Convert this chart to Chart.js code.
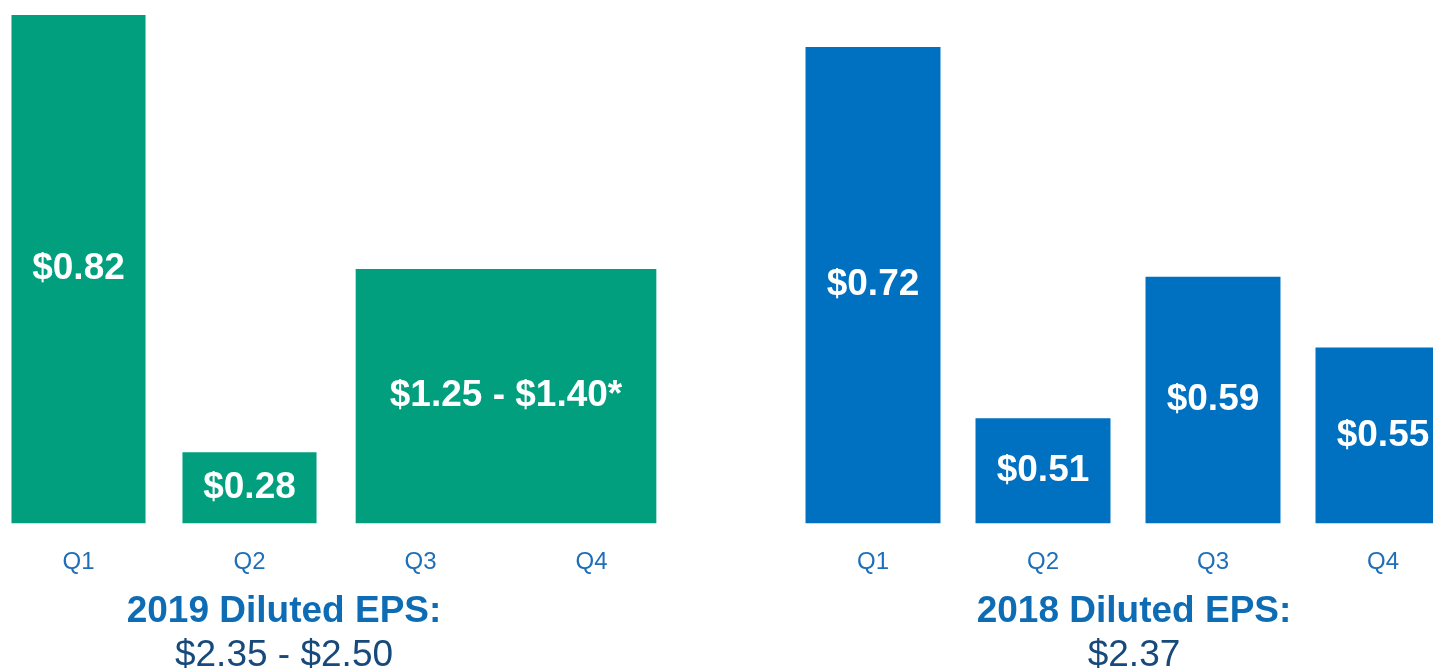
<!DOCTYPE html>
<html>
<head>
<meta charset="utf-8">
<script src="https://cdn.jsdelivr.net/npm/chart.js@4.4.1/dist/chart.umd.min.js"></script>
<style>
  html, body { margin: 0; padding: 0; background: #ffffff; overflow: hidden; width: 1433px; height: 671px; }
  .chart-box { position: absolute; top: 0; height: 678px; }
  #eps2019-box { left: -109px; width: 786px; }
  #eps2018-box { left: 788px; width: 692px; }
</style>
</head>
<body>
<div class="chart-box" id="eps2019-box"><canvas id="eps2019-chart"></canvas></div>
<div class="chart-box" id="eps2018-box"><canvas id="eps2018-chart"></canvas></div>
<script>
// Quarter categories
const quarters = ['Q1', 'Q2', 'Q3', 'Q4'];

// 2019: reported quarters, plus guidance for Q3+Q4 drawn as one wide bar
const eps2019Values = [0.82, 0.28, null, null];
const eps2019Labels = ['$0.82', '$0.28'];
// quarter edges used to centre the Q3-Q4 guidance bar on the Q3/Q4 boundary
const quarterEdges = ['Q1 start', 'Q2 start', 'Q3 start', 'Q4 start', 'Q4 end'];
const guidanceAt = ['Q4 start'];
const guidancePlotted = [0.506];   // height as drawn on the slide (not to scale)
const guidanceLabels = ['$1.25 - $1.40*'];

// 2018 quarters
const eps2018Values = [0.72, 0.51, 0.59, 0.55];
const eps2018Labels = ['$0.72', '$0.51', '$0.59', '$0.55'];

const COLORS = {
    green: '#019f7e',
    blue: '#0070c0',
    axisText: '#1f6fb8',
    title: '#0e6cb4',
    amount: '#17497b'
};
const FONT = '"Liberation Sans", Arial, Helvetica, sans-serif';

/**
 * Writes the value text in the middle of every bar
 * (bars start at zero and are clipped by the chart area, so clamp the base)
 */
const barValuePlugin = {
    id: 'barValues',
    afterDatasetsDraw(chart) {
        const ctx = chart.ctx;
        const bottom = chart.chartArea.bottom;
        ctx.save();
        ctx.fillStyle = '#ffffff';
        ctx.font = 'bold 37px ' + FONT;
        ctx.textAlign = 'center';
        ctx.textBaseline = 'middle';
        chart.data.datasets.forEach((ds, i) => {
            const meta = chart.getDatasetMeta(i);
            meta.data.forEach((bar, j) => {
                const text = ds.valueLabels[j];
                if (!text || bar.skip || isNaN(bar.y)) return;
                const base = Math.min(bar.base, bottom);
                ctx.fillText(text, bar.x, (bar.y + base) / 2);
            });
        });
        ctx.restore();
    }
};

function xAxis() {
    return {
        grid: { display: false, drawTicks: false },
        border: { display: false },
        ticks: {
            color: COLORS.axisText,
            font: { family: FONT, size: 24 },
            padding: 25
        },
        afterFit(scale) { scale.height = 66; }
    };
}

function yAxis(min, max, position, width) {
    return {
        position: position,
        min: min,
        max: max,
        grid: { display: false },
        border: { display: false },
        ticks: { display: false },
        afterFit(scale) { scale.width = width; }
    };
}

function titles(heading, amount) {
    return {
        legend: { display: false },
        tooltip: { enabled: false },
        subtitle: {
            display: true,
            position: 'bottom',
            text: heading,
            color: COLORS.title,
            font: { family: FONT, size: 37, weight: 'bold' },
            padding: 0
        },
        title: {
            display: true,
            position: 'bottom',
            text: amount,
            color: COLORS.amount,
            font: { family: FONT, size: 37, weight: 'normal' },
            padding: 0
        }
    };
}

new Chart(document.getElementById('eps2019-chart'), {
    type: 'bar',
    data: {
        labels: quarters,
        datasets: [{
            data: eps2019Values,
            valueLabels: eps2019Labels,
            backgroundColor: COLORS.green,
            categoryPercentage: 1,
            barPercentage: 0.784,
            grouped: false,
            xAxisID: 'x'
        }, {
            data: guidanceAt.map((q, i) => ({ x: q, y: guidancePlotted[i] })),
            valueLabels: guidanceLabels,
            backgroundColor: COLORS.green,
            barThickness: 300,
            grouped: false,
            xAxisID: 'x2'
        }]
    },
    options: {
        responsive: true,
        maintainAspectRatio: false,
        animation: false,
        layout: { padding: 0 },
        scales: {
            x: xAxis(),
            x2: {
                type: 'category',
                labels: quarterEdges,
                offset: false,
                display: false
            },
            y: yAxis(0.1923, 0.8385, 'left', 102)
        },
        plugins: titles('2019 Diluted EPS:', '$2.35 - $2.50')
    },
    plugins: [barValuePlugin]
});

new Chart(document.getElementById('eps2018-chart'), {
    type: 'bar',
    data: {
        labels: quarters,
        datasets: [{
            data: eps2018Values,
            valueLabels: eps2018Labels,
            backgroundColor: COLORS.blue,
            categoryPercentage: 1,
            barPercentage: 0.794
        }]
    },
    options: {
        responsive: true,
        maintainAspectRatio: false,
        animation: false,
        layout: { padding: 0 },
        scales: {
            x: xAxis(),
            y: yAxis(0.4506, 0.7466, 'right', 12)
        },
        plugins: titles('2018 Diluted EPS:', '$2.37')
    },
    plugins: [barValuePlugin]
});
</script>
</body>
</html>
